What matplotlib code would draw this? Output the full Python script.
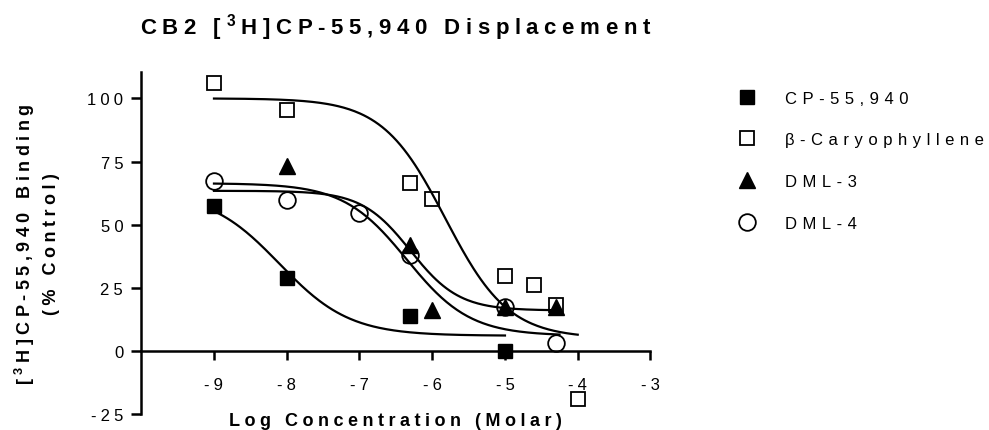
import numpy as np
import matplotlib
matplotlib.use("Agg")
import matplotlib.pyplot as plt

plt.rcParams['font.family'] = ['Liberation Sans', 'DejaVu Sans']
plt.rcParams['mathtext.fontset'] = 'custom'
plt.rcParams['mathtext.rm'] = 'Liberation Sans'
plt.rcParams['mathtext.bf'] = 'Liberation Sans:bold'

# measured points (log M, % control)
x_cp = [-9, -8, -6.3, -5]
y_cp = [57.5, 28.7, 13.8, 0]
x_bc = [-9, -8, -6.3, -6, -5, -4.6, -4.3, -4]
y_bc = [106.2, 95.6, 66.4, 60.1, 29.6, 26.0, 18.0, -19.0]
x_d3 = [-8, -6.3, -6, -5, -4.3]
y_d3 = [73.3, 42.1, 16.2, 17.5, 17.5]
x_d4 = [-9, -8, -7, -6.3, -5, -4.3]
y_d4 = [67.1, 59.6, 54.6, 37.8, 17.5, 3.0]

# fitted curves: top, bottom, logIC50, hill slope, x start, x end
fit_cp = [63, 6, -8.1, 0.9, -9, -5]
fit_bc = [100, 5, -5.82, 1.0, -9, -4]
fit_d3 = [63.4, 16, -6.3, 1.3, -9, -4.25]
fit_d4 = [66.4, 6, -6.35, 1.0, -9, -4.25]

names = ['CP-55,940', '\u03b2-Caryophyllene', 'DML-3', 'DML-4']
SUP3 = r'$^{\mathbf{3}}$'


def sp(s, gap='\u2005'):
    # letter spacing like the prism export, '#' stands for the superscript 3
    words = s.split(' ')
    out = (gap + ' ' + gap).join(gap.join(w) for w in words)
    return out.replace('#', SUP3)


def sigmoid(p):
    top, bot, ic, h, x0, x1 = p
    xx = np.linspace(x0, x1, 200)
    return xx, bot + (top - bot) / (1 + 10 ** ((xx - ic) * h))


fig = plt.figure(figsize=(9.89, 4.31), dpi=100)
ax = fig.add_axes([0.1428, 0.0371, 0.5149, 0.7938])

for p in [fit_cp, fit_bc, fit_d3, fit_d4]:
    xx, yy = sigmoid(p)
    ax.plot(xx, yy, color='black', lw=1.6, zorder=2)

h1, = ax.plot(x_cp, y_cp, 's', ms=10, color='black', zorder=3)
h2, = ax.plot(x_bc, y_bc, 's', ms=10, mfc='none', mec='black', mew=1.3, zorder=3)
h3, = ax.plot(x_d3, y_d3, '^', ms=11, color='black', zorder=3)
h4, = ax.plot(x_d4, y_d4, 'o', ms=12, mfc='none', mec='black', mew=1.3, zorder=3)

ax.set_xlim(-10, -3)
ax.set_ylim(-25, 110.5)
ax.spines['top'].set_visible(False)
ax.spines['right'].set_visible(False)
ax.spines['bottom'].set_position(('data', 0))
ax.spines['left'].set_linewidth(1.8)
ax.spines['bottom'].set_linewidth(1.8)

xt = [-9, -8, -7, -6, -5, -4, -3]
yt = [-25, 0, 25, 50, 75, 100]
ax.set_xticks(xt, labels=[sp(str(v)) for v in xt])
ax.set_yticks(yt, labels=[sp(str(v)) for v in yt])
ax.tick_params(axis='x', direction='out', length=6.5, width=1.8, pad=12, labelsize=12)
ax.tick_params(axis='y', direction='out', length=7, width=1.8, pad=6, labelsize=12)

cx = 0.1428 + 0.5149 / 2
fig.text(cx, 0.937, sp('CB2 [#H]CP-55,940 Displacement'), ha='center', va='center',
         fontsize=16, fontweight='bold')
fig.text(cx, 0.023, sp('Log Concentration (Molar)'), ha='center', va='center',
         fontsize=13, fontweight='bold')
fig.text(0.037, 0.434, sp('[#H]CP-55,940 Binding') + '\n' + sp('(% Control)'),
         ha='center', va='center', rotation=90, fontsize=13, fontweight='bold',
         multialignment='center', linespacing=1.45)

fig.legend([h1, h2, h3, h4], [sp(n, '\u2004') for n in names], loc='center left',
           bbox_to_anchor=(0.747, 0.625), frameon=False, fontsize=12, numpoints=1,
           handlelength=1.0, handletextpad=1.8, labelspacing=1.6, borderpad=0,
           borderaxespad=0)

fig.savefig('out.png', dpi=100)
